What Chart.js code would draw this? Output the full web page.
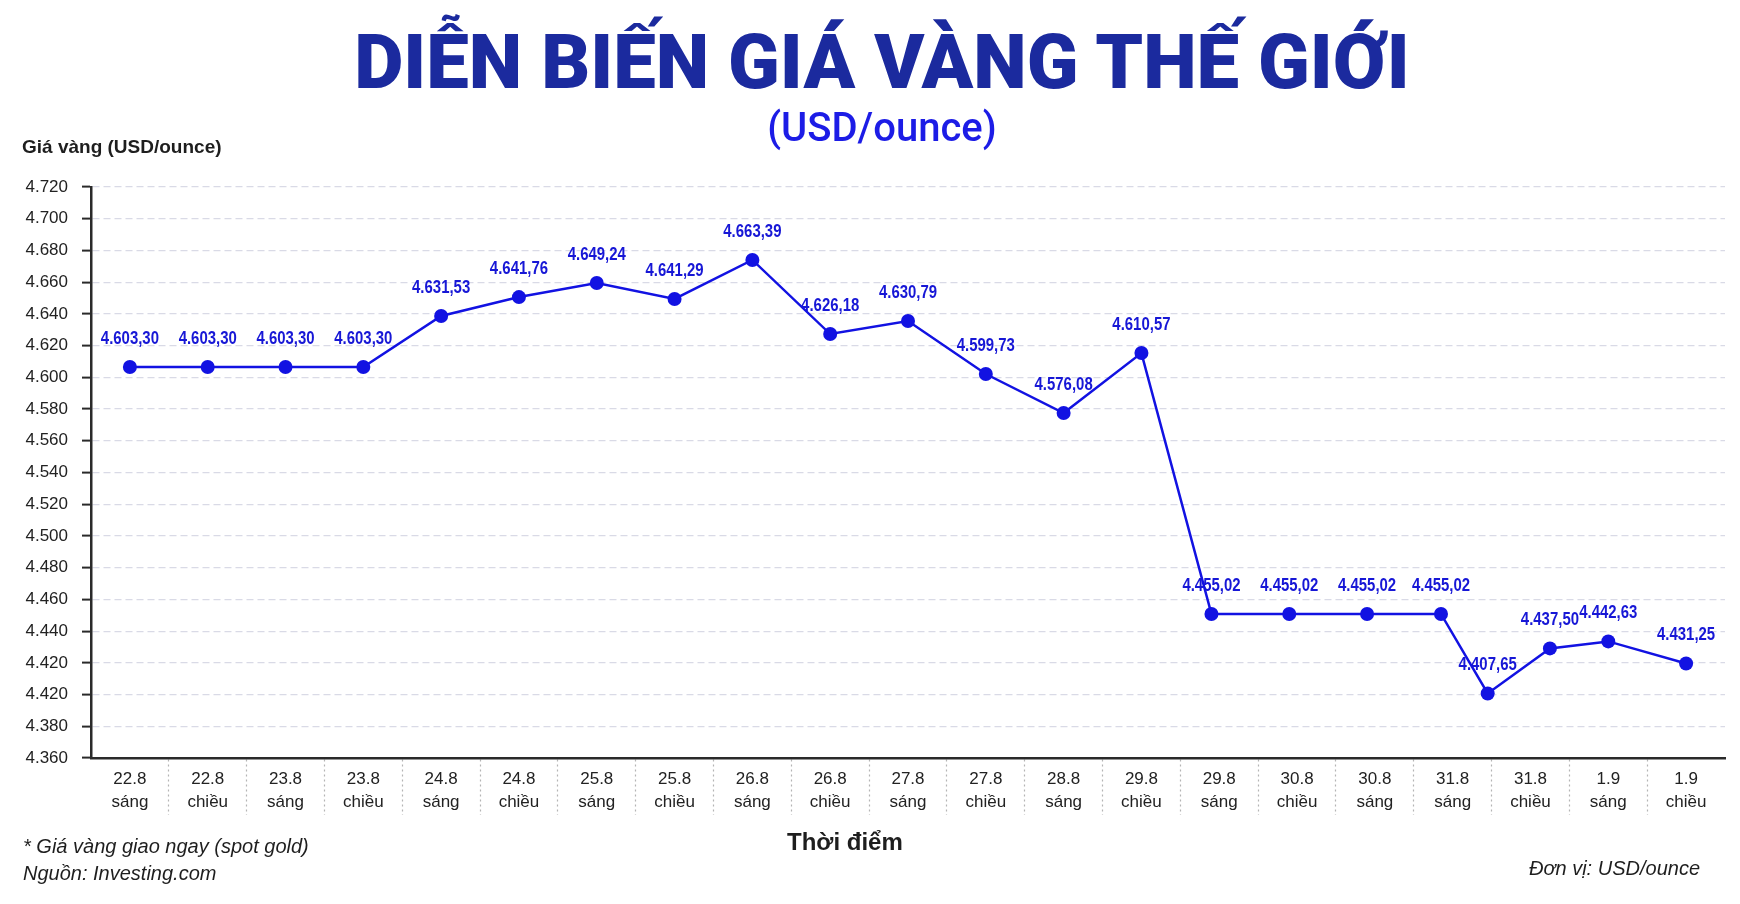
<!DOCTYPE html>
<html lang="vi">
<head>
<meta charset="utf-8">
<title>Diễn biến giá vàng thế giới</title>
<script src="https://cdn.jsdelivr.net/npm/chart.js@4.4.1/dist/chart.umd.min.js"></script>
<style>
  html, body { margin: 0; padding: 0; background: #fff; }
  #wrap { position: relative; width: 1740px; height: 904px; background: #fff; overflow: hidden; }
  #wrap canvas { position: absolute; left: 0; top: 0; }
  .txt { position: absolute; white-space: nowrap; color: #1e1e1e; font-family: "Liberation Sans", Arial, sans-serif; }
  #title { left: 12px; width: 1740px; top: 24px; text-align: center; font-family: Roboto, sans-serif; font-weight: 900; font-size: 76px; line-height: 76px; color: #1b2a9e; }
  #subtitle { left: 12px; width: 1740px; top: 108px; text-align: center; font-family: Roboto, sans-serif; font-weight: 500; font-size: 40px; line-height: 40px; color: #1c1ce6; }
  #ycap { left: 22px; top: 137px; font-weight: bold; font-size: 19px; line-height: 19px; }
  #xcap { left: 787px; top: 830px; font-weight: bold; font-size: 24px; line-height: 24px; }
  #note1 { left: 23px; top: 836px; font-style: italic; font-size: 20px; line-height: 20px; }
  #note2 { left: 23px; top: 863px; font-style: italic; font-size: 20px; line-height: 20px; }
  #unit { right: 40px; top: 858px; font-style: italic; font-size: 20px; line-height: 20px; }
</style>
</head>
<body>
<div id="wrap">
  <canvas id="myChart"></canvas>
  <div class="txt" id="title">DIỄN BIẾN GIÁ VÀNG THẾ GIỚI</div>
  <div class="txt" id="subtitle">(USD/ounce)</div>
  <div class="txt" id="ycap">Giá vàng (USD/ounce)</div>
  <div class="txt" id="xcap">Thời điểm</div>
  <div class="txt" id="note1">* Giá vàng giao ngay (spot gold)</div>
  <div class="txt" id="note2">Nguồn: Investing.com</div>
  <div class="txt" id="unit">Đơn vị: USD/ounce</div>
</div>
<script>
// time slots shown on the x axis (day.month + morning/afternoon)
const slotDays = ['22.8', '22.8', '23.8', '23.8', '24.8', '24.8', '25.8', '25.8', '26.8', '26.8', '27.8',
    '27.8', '28.8', '29.8', '29.8', '30.8', '30.8', '31.8', '31.8', '1.9', '1.9'];
const slotParts = ['sáng', 'chiều', 'sáng', 'chiều', 'sáng', 'chiều', 'sáng', 'chiều', 'sáng', 'chiều', 'sáng',
    'chiều', 'sáng', 'chiều', 'sáng', 'chiều', 'sáng', 'sáng', 'chiều', 'sáng', 'chiều'];

// where each reading sits along the slots (the last ones are squeezed in the original)
const pointSlots = [0, 1, 2, 3, 4, 5, 6, 7, 8, 9, 10, 11, 12, 13, 13.9, 14.9, 15.9, 16.85, 17.45, 18.25, 19, 20];

// plotted height of each reading, as drawn
const priceValues = [4606.5, 4606.5, 4606.5, 4606.5, 4638.7, 4650.6, 4659.5, 4649.4, 4674, 4627.3, 4635.5,
    4602.1, 4577.5, 4615.3, 4450.8, 4450.8, 4450.8, 4450.8, 4400.7, 4429.1, 4433.5, 4419.6];

// the printed price next to each point
const priceLabels = ['4.603,30', '4.603,30', '4.603,30', '4.603,30', '4.631,53', '4.641,76', '4.649,24',
    '4.641,29', '4.663,39', '4.626,18', '4.630,79', '4.599,73', '4.576,08', '4.610,57', '4.455,02',
    '4.455,02', '4.455,02', '4.455,02', '4.407,65', '4.437,50', '4.442,63', '4.431,25'];

// y axis tick labels, top to bottom, as printed
const yTickLabels = ['4.720', '4.700', '4.680', '4.660', '4.640', '4.620', '4.600', '4.580', '4.560', '4.540',
    '4.520', '4.500', '4.480', '4.460', '4.440', '4.420', '4.420', '4.380', '4.360'];

const BLUE = '#1212e2';
const AXIS = '#2a2a2a';

// price text above every point, in a narrow bold face (squeezed Liberation Sans)
const valueLabels = {
    id: 'valueLabels',
    afterDatasetsDraw(chart) {
        const ctx = chart.ctx;
        const pts = chart.getDatasetMeta(0).data;
        ctx.save();
        ctx.font = 'bold 18px "Liberation Sans", Arial, sans-serif';
        ctx.fillStyle = '#1717d6';
        ctx.textAlign = 'center';
        ctx.textBaseline = 'middle';
        pts.forEach((p, i) => {
            ctx.save();
            ctx.translate(p.x, p.y - 28);
            ctx.scale(0.83, 1);
            ctx.fillText(priceLabels[i], 0, 0);
            ctx.restore();
        });
        ctx.restore();
    }
};

// only the inner separators of the slot cells are drawn
const innerSep = (c) => c.type === 'tick' && c.index > 0 && c.index < slotDays.length;

const data = {
    datasets: [{
        label: 'Giá vàng',
        xAxisID: 'xv',
        data: priceValues.map((v, i) => ({x: pointSlots[i], y: v})),
        borderColor: BLUE,
        backgroundColor: BLUE,
        borderWidth: 2.5,
        pointRadius: 7,
        pointHoverRadius: 7,
        pointBorderWidth: 0,
        tension: 0
    }]
};

const config = {
    type: 'line',
    data: data,
    options: {
        responsive: true,
        maintainAspectRatio: false,
        animation: false,
        events: [],
        layout: {
            padding: {top: 187, right: 15, bottom: 0, left: 0}
        },
        plugins: {
            legend: {display: false},
            tooltip: {enabled: false}
        },
        scales: {
            x: {
                type: 'category',
                position: 'bottom',
                labels: slotDays.map((d, i) => [d, slotParts[i]]),
                offset: true,
                afterFit: (s) => { s.height = 146; },
                grid: {
                    offset: true,
                    drawOnChartArea: false,
                    drawTicks: true,
                    tickLength: 57,
                    tickBorderDash: [2, 3],
                    tickWidth: (c) => innerSep(c) ? 1.2 : 0,
                    tickColor: (c) => innerSep(c) ? '#b4b4b4' : 'rgba(0,0,0,0)'
                },
                border: {display: true, color: AXIS, width: 2.5},
                ticks: {
                    autoSkip: false,
                    maxRotation: 0,
                    padding: -47,
                    color: '#222',
                    font: {family: '"Liberation Sans", Arial, sans-serif', size: 17, lineHeight: 1.35}
                }
            },
            xv: {
                type: 'linear',
                display: false,
                min: -0.5,
                max: slotDays.length - 0.5
            },
            y: {
                min: 4360,
                max: 4720,
                afterFit: (s) => { s.width = 91; },
                ticks: {
                    stepSize: 20,
                    padding: 14,
                    color: '#222',
                    font: {family: '"Liberation Sans", Arial, sans-serif', size: 17},
                    callback: function(val, index, ticks) {
                        return yTickLabels[ticks.length - 1 - index];
                    }
                },
                grid: {
                    color: '#d9dae6',
                    lineWidth: 1.2,
                    drawTicks: true,
                    tickLength: 9,
                    tickColor: AXIS,
                    tickWidth: 2
                },
                border: {display: true, color: AXIS, width: 2.5, dash: [7, 4]}
            }
        }
    },
    plugins: [valueLabels]
};

const myChart = new Chart(
    document.getElementById('myChart'),
    config
);
</script>
</body>
</html>
